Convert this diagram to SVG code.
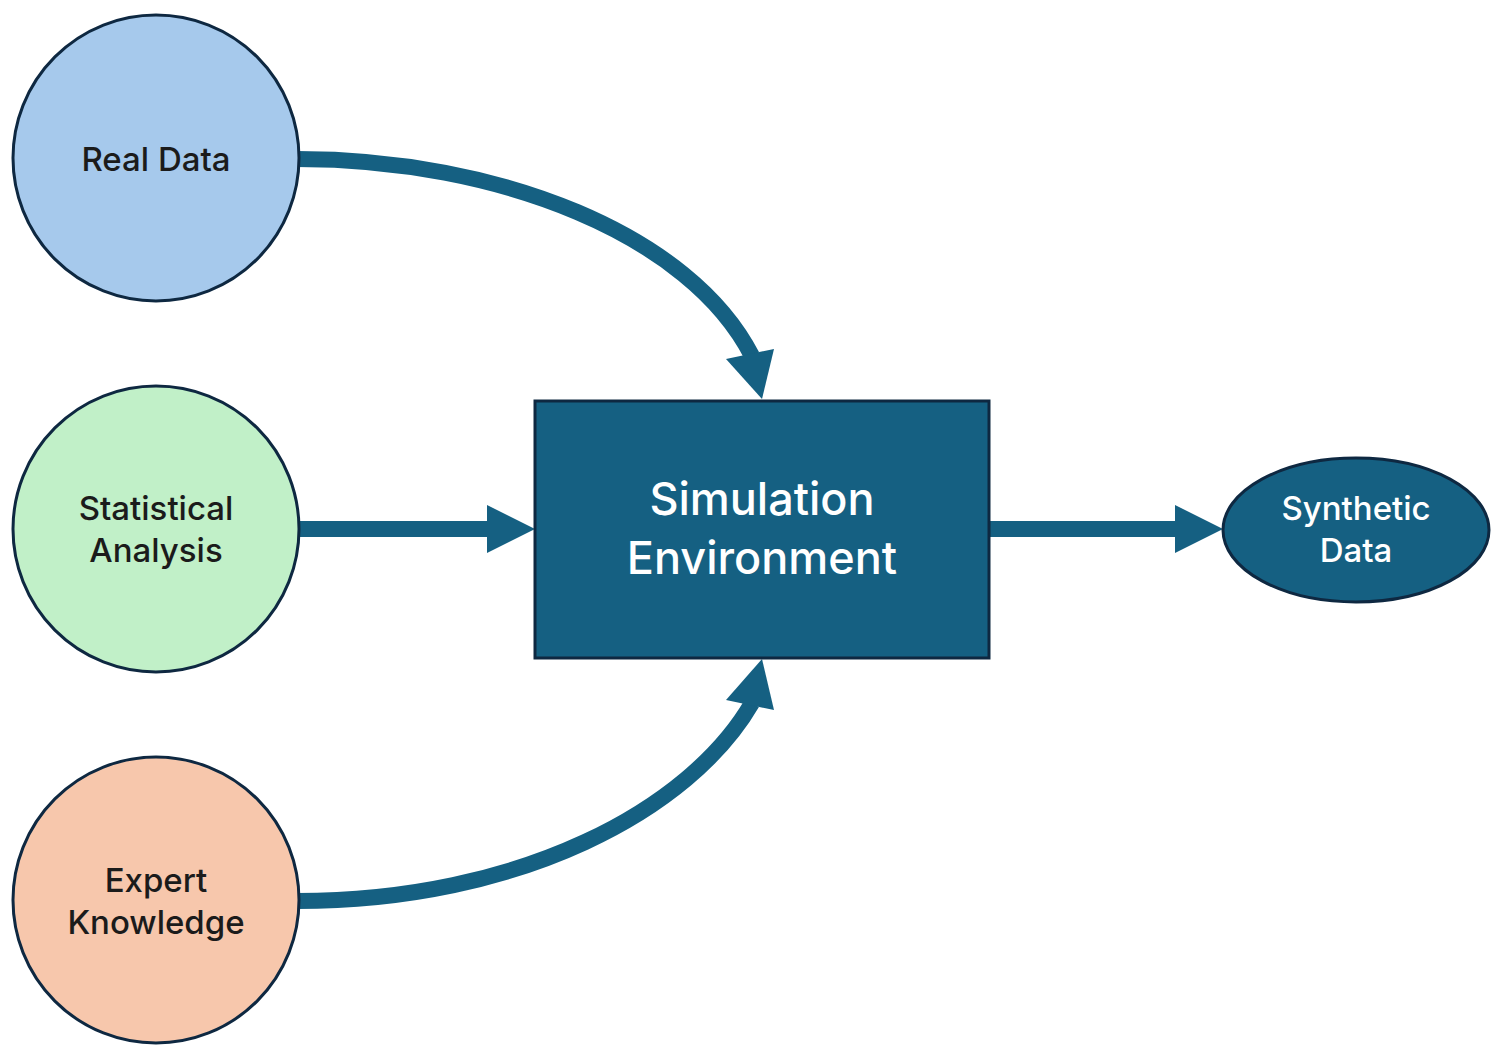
<svg xmlns="http://www.w3.org/2000/svg" width="1499" height="1049" viewBox="0 0 1499 1049">
  <style>
    .src { stroke: #0e2841; stroke-width: 3; }
    .lbl { font-family: Inter, "Noto Sans", "Liberation Sans", sans-serif; font-size: 33px; font-weight: 500; text-anchor: middle; fill: #1b1b1b; }
    .lbl-w { fill: #ffffff; }
    .big { font-size: 45px; }
    .wire { fill: none; stroke: #156082; stroke-width: 16; }
    .head { fill: #156082; }
  </style>
  <rect width="1499" height="1049" fill="#ffffff"/>

  <!-- connectors -->
  <g id="connectors">
    <!-- Real Data -> Simulation Environment -->
    <path class="wire" d="M297,159 C500,159 690,235 752,356"/>
    <polygon class="head" points="762,399 726,359 774,349"/>
    <!-- Statistical Analysis -> Simulation Environment -->
    <path class="wire" d="M297,529 L492,529"/>
    <polygon class="head" points="535,529 487,505 487,553"/>
    <!-- Simulation Environment -> Synthetic Data -->
    <path class="wire" d="M989,529 L1180,529"/>
    <polygon class="head" points="1223,529 1175,505 1175,553"/>
    <!-- Expert Knowledge -> Simulation Environment -->
    <path class="wire" d="M297,901 C520,901 690,810 752,703"/>
    <polygon class="head" points="762,659 726,700 774,710"/>
  </g>

  <g id="real-data">
    <circle class="src" cx="156" cy="158" r="143" fill="#a6c9ec"/>
    <text class="lbl" x="156" y="171">Real Data</text>
  </g>

  <g id="statistical-analysis">
    <circle class="src" cx="156" cy="529" r="143" fill="#c1f0c8"/>
    <text class="lbl" x="156" y="520">Statistical</text>
    <text class="lbl" x="156" y="562">Analysis</text>
  </g>

  <g id="expert-knowledge">
    <circle class="src" cx="156" cy="900" r="143" fill="#f7c7ac"/>
    <text class="lbl" x="156" y="892">Expert</text>
    <text class="lbl" x="156" y="934">Knowledge</text>
  </g>

  <g id="simulation-environment">
    <rect x="535" y="401" width="454" height="257" fill="#156082" stroke="#0e2841" stroke-width="3"/>
    <text class="lbl lbl-w big" x="762" y="515">Simulation</text>
    <text class="lbl lbl-w big" x="762" y="574">Environment</text>
  </g>

  <g id="synthetic-data">
    <ellipse cx="1356" cy="530" rx="133" ry="72" fill="#156082" stroke="#0e2841" stroke-width="3"/>
    <text class="lbl lbl-w" x="1356" y="520">Synthetic</text>
    <text class="lbl lbl-w" x="1356" y="562">Data</text>
  </g>
</svg>
